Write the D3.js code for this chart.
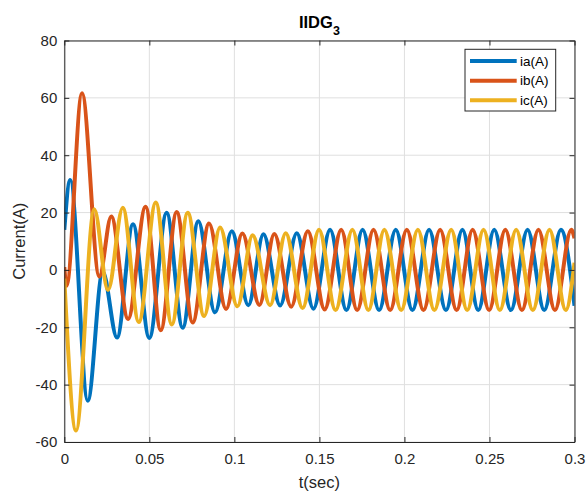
<!DOCTYPE html>
<html>
<head>
<meta charset="utf-8">
<script src="https://cdn.jsdelivr.net/npm/d3@7"></script>
<style>
  html, body { margin: 0; padding: 0; background: #fff; }
  svg text { font-family: "Liberation Sans", Arial, Helvetica, sans-serif; }
</style>
</head>
<body>
<svg id="chart" width="587" height="495"></svg>
<script>
// ---- data (extrema of each phase current) ----
const xTicks = [0, 0.05, 0.1, 0.15, 0.2, 0.25, 0.3];
const yTicks = [-60, -40, -20, 0, 20, 40, 60, 80];
const seriesNames = ["ia(A)", "ib(A)", "ic(A)"];
const seriesColors = ["#0072BD", "#D95319", "#EDB120"];

const iaT = [0, 0.0035, 0.0138, 0.0226, 0.0310, 0.0404, 0.0500, 0.0602, 0.0696, 0.0788, 0.0886, 0.0985,
  0.1082, 0.1171, 0.1269, 0.1367, 0.1465, 0.1563, 0.1659, 0.1754, 0.1851, 0.1949, 0.2047, 0.2145,
  0.2244, 0.2341, 0.2434, 0.2528, 0.2626, 0.2724, 0.2822, 0.2920, 0.3];
const iaV = [14, 31.4, -45.6, -0.6, -23.6, 15.9, -23.7, 19.9, -20.2, 17, -14.8, 13.5,
  -12.3, 12.4, -12.4, 12.8, -13.5, 14, -14, 14, -14, 14, -14, 14,
  -14, 14, -14, 14, -14, 14, -14, 14, -12.5];

const ibT = [0, 0.0013, 0.0104, 0.0206, 0.0276, 0.0375, 0.0478, 0.0567, 0.0661, 0.0755, 0.0851, 0.0951,
  0.1047, 0.1147, 0.1235, 0.1334, 0.1432, 0.1531, 0.1628, 0.1722, 0.1818, 0.1916, 0.2014, 0.2112,
  0.2210, 0.2307, 0.2401, 0.2498, 0.2593, 0.2691, 0.2788, 0.2885, 0.2981, 0.3];
const ibV = [1, -5.5, 61.6, -2.3, 18.6, -17.1, 22, -21, 20.2, -18.3, 16.2, -13.6,
  12.7, -12.2, 12.5, -12.8, 13.5, -13.8, 14, -14, 14, -14, 14, -14,
  14, -14, 14, -14, 14, -14, 14, -14, 14, 11];

const icT = [0, 0.0069, 0.0176, 0.0257, 0.0344, 0.0438, 0.0538, 0.0632, 0.0726, 0.0822, 0.0916, 0.1018,
  0.1107, 0.1210, 0.1302, 0.1401, 0.1498, 0.1595, 0.1694, 0.1788, 0.1882, 0.1981, 0.2079, 0.2176,
  0.2275, 0.2369, 0.2465, 0.2561, 0.2657, 0.2755, 0.2853, 0.2949, 0.3];
const icV = [-3, -56, 21.2, -7, 21.7, -18.2, 23.5, -19, 19.9, -16.1, 14.8, -12.7,
  12.1, -12.3, 12.8, -13.3, 14, -14, 14, -14, 14, -14, 14, -14,
  14, -14, 14, -14, 14, -14, 14, -14, 2.5];

const seriesT = [iaT, ibT, icT];
const seriesV = [iaV, ibV, icV];

// ---- layout ----
const L = 64.3, R = 574.5, T = 40.5, B = 442;
const axisColor = "#262626";
const svg = d3.select("#chart");
const x = d3.scaleLinear().domain([0, 0.3]).range([L, R]);
const y = d3.scaleLinear().domain([-60, 80]).range([B, T]);

svg.append("rect").attr("x", L).attr("y", T).attr("width", R - L).attr("height", B - T).attr("fill", "#fff");

// grid
const grid = svg.append("g").attr("stroke", "#dfdfdf").attr("stroke-width", 1);
grid.selectAll("line.vx").data(xTicks).join("line")
  .attr("x1", d => x(d)).attr("x2", d => x(d)).attr("y1", T).attr("y2", B);
grid.selectAll("line.hy").data(yTicks).join("line")
  .attr("y1", d => y(d)).attr("y2", d => y(d)).attr("x1", L).attr("x2", R);

// clip
svg.append("clipPath").attr("id", "clip").append("rect")
  .attr("x", L).attr("y", T).attr("width", R - L).attr("height", B - T);

// lines
const line = d3.line().curve(d3.curveMonotoneX).x(d => x(d[0])).y(d => y(d[1]));
const gl = svg.append("g").attr("clip-path", "url(#clip)");
seriesT.forEach((ts, i) => {
  const pts = ts.map((t, k) => [t, seriesV[i][k]]);
  gl.append("path").datum(pts).attr("d", line)
    .attr("fill", "none").attr("stroke", seriesColors[i]).attr("stroke-width", 4)
    .attr("stroke-linejoin", "round").attr("stroke-linecap", "butt");
});

// axes
function styleAxis(g) {
  g.selectAll("path.domain").attr("stroke", axisColor).attr("stroke-width", 1);
  g.selectAll(".tick line").attr("stroke", axisColor).attr("stroke-width", 1);
  g.selectAll(".tick text").attr("fill", axisColor).attr("font-size", 15)
    .attr("font-family", '"Liberation Sans", Arial, Helvetica, sans-serif');
}
const fmt = d => String(d);
svg.append("g").attr("transform", `translate(0,${B})`)
  .call(d3.axisBottom(x).tickValues(xTicks).tickFormat(fmt).tickSizeInner(-5).tickSizeOuter(0).tickPadding(11))
  .call(styleAxis);
svg.append("g").attr("transform", `translate(0,${T})`)
  .call(d3.axisTop(x).tickValues(xTicks).tickFormat("").tickSizeInner(-5).tickSizeOuter(0))
  .call(styleAxis);
svg.append("g").attr("transform", `translate(${L},0)`)
  .call(d3.axisLeft(y).tickValues(yTicks).tickFormat(fmt).tickSizeInner(-5).tickSizeOuter(0).tickPadding(7))
  .call(styleAxis);
svg.append("g").attr("transform", `translate(${R},0)`)
  .call(d3.axisRight(y).tickValues(yTicks).tickFormat("").tickSizeInner(-5).tickSizeOuter(0))
  .call(styleAxis);

// axis labels
svg.append("text").attr("x", (L + R) / 2).attr("y", 488).attr("text-anchor", "middle")
  .attr("font-size", 16.5).attr("fill", axisColor).text("t(sec)");
svg.append("text").attr("transform", `translate(25,${(T + B) / 2}) rotate(-90)`)
  .attr("text-anchor", "middle").attr("font-size", 16.5).attr("fill", axisColor).text("Current(A)");

// title
const title = svg.append("text").attr("x", (L + R) / 2).attr("y", 28).attr("text-anchor", "middle")
  .attr("font-size", 16.5).attr("font-weight", "bold").attr("fill", "#000");
title.append("tspan").text("IIDG");
title.append("tspan").attr("dy", 7).attr("font-size", 12.5).text("3");

// legend
const lg = svg.append("g");
lg.append("rect").attr("x", 465).attr("y", 49.3).attr("width", 90.7).attr("height", 61.7)
  .attr("fill", "#fff").attr("stroke", axisColor).attr("stroke-width", 1);
const rowY = d3.scalePoint().domain(seriesNames).range([61, 100.3]);
seriesNames.forEach((n, i) => {
  lg.append("line").attr("x1", 470).attr("x2", 516.7).attr("y1", rowY(n)).attr("y2", rowY(n))
    .attr("stroke", seriesColors[i]).attr("stroke-width", 4);
  lg.append("text").attr("x", 520).attr("y", rowY(n)).attr("dy", "0.35em")
    .attr("font-size", 13.5).attr("fill", "#000").text(n);
});
</script>
</body>
</html>
